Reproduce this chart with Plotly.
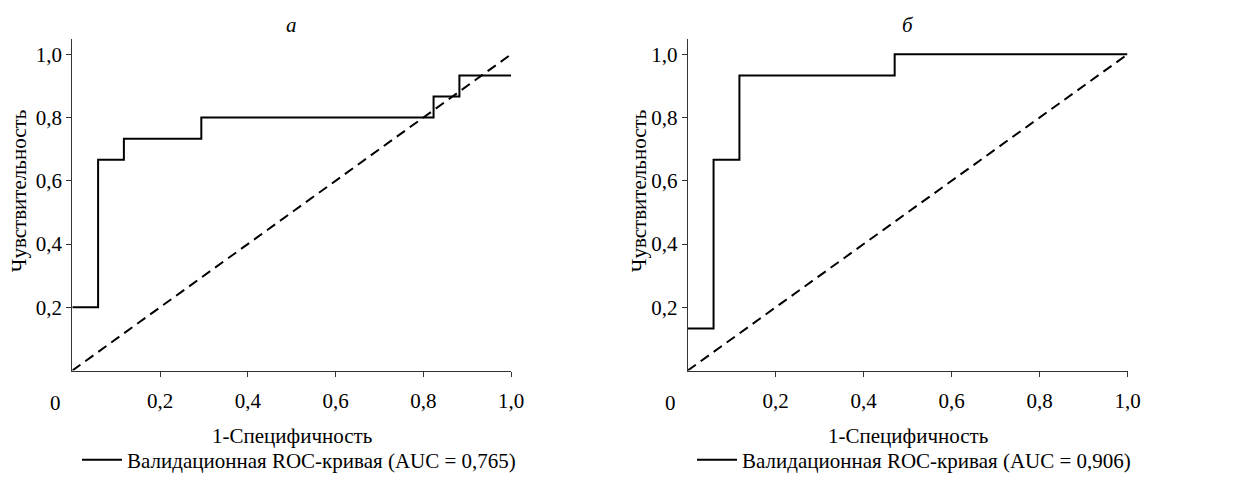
import plotly.graph_objects as go

# ROC data (1 - specificity, sensitivity)
fpr_a = [0.0, 0.0588, 0.0588, 0.1176, 0.1176, 0.2941, 0.2941, 0.8235, 0.8235, 0.8824, 0.8824, 1.0]
tpr_a = [0.2, 0.2, 0.6667, 0.6667, 0.7333, 0.7333, 0.8, 0.8, 0.8667, 0.8667, 0.9333, 0.9333]
fpr_b = [0.0, 0.0588, 0.0588, 0.1176, 0.1176, 0.4706, 0.4706, 1.0]
tpr_b = [0.1333, 0.1333, 0.6667, 0.6667, 0.9333, 0.9333, 1.0, 1.0]
diag = [0.0, 1.0]
tick_vals = [0.2, 0.4, 0.6, 0.8, 1.0]
panel_titles = ["а", "б"]
legend_a = "Валидационная ROC-кривая (AUC = 0,765)"
legend_b = "Валидационная ROC-кривая (AUC = 0,906)"
x_title = "1-Специфичность"
y_title = "Чувствительность"

FONT = "Liberation Serif"
OFF = 8  # default page body margin
W, H = 1238 - OFF, 481 - OFF


def px(x):
    return (x - OFF) / W


def py(y):
    return 1 - (y - OFF) / H


fig = go.Figure()

fig.add_trace(go.Scatter(x=fpr_a, y=tpr_a, mode="lines", name=legend_a,
                         line=dict(color="black", width=2), xaxis="x", yaxis="y",
                         legend="legend", showlegend=True))
fig.add_trace(go.Scatter(x=diag, y=diag, mode="lines", showlegend=False,
                         line=dict(color="black", width=2, dash="10px,6px"), xaxis="x", yaxis="y"))
fig.add_trace(go.Scatter(x=fpr_b, y=tpr_b, mode="lines", name=legend_b,
                         line=dict(color="black", width=2), xaxis="x2", yaxis="y2",
                         legend="legend2", showlegend=True))
fig.add_trace(go.Scatter(x=diag, y=diag, mode="lines", showlegend=False,
                         line=dict(color="black", width=2, dash="10px,6px"), xaxis="x2", yaxis="y2"))

ydom = [py(376), py(39)]
xdom1 = [px(72.3), px(511)]
xdom2 = [px(687.7), px(1127.5)]

axis_common = dict(
    showgrid=False, zeroline=False, showline=True, linecolor="#333", linewidth=1,
    ticks="outside", ticklen=5, tickcolor="#333", tickwidth=1,
    tickvals=tick_vals, tickformat=".1f", automargin=False,
    tickfont=dict(family=FONT, size=21, color="black"),
)

fig.update_layout(
    width=W, height=H, autosize=False,
    margin=dict(l=0, r=0, t=0, b=0),
    paper_bgcolor="white", plot_bgcolor="white",
    separators=", ",
    font=dict(family=FONT, color="black"),
    xaxis=dict(domain=xdom1, range=[0, 1], anchor="y", ticklabelstandoff=6, **axis_common),
    yaxis=dict(domain=ydom, range=[0, 1.05], anchor="x", **axis_common),
    xaxis2=dict(domain=xdom2, range=[0, 1], anchor="y2", ticklabelstandoff=6, **axis_common),
    yaxis2=dict(domain=ydom, range=[0, 1.05], anchor="x2", **axis_common),
    legend=dict(x=px(77), y=py(467), xanchor="left", yanchor="middle",
                font=dict(family=FONT, size=21, color="black"), itemwidth=40,
                bgcolor="rgba(0,0,0,0)"),
    legend2=dict(x=px(692), y=py(467), xanchor="left", yanchor="middle",
                 font=dict(family=FONT, size=21, color="black"), itemwidth=40,
                 bgcolor="rgba(0,0,0,0)"),
)

ann = []
for xr, yr in [("x", "y"), ("x2", "y2")]:
    # corner zero label
    ann.append(dict(x=0, y=0, xref=xr, yref=yr, text="0", showarrow=False,
                    xanchor="center", yanchor="middle",
                    xshift=-17, yshift=-32, font=dict(family=FONT, size=21)))
for cx, t in [(291.7, panel_titles[0]), (907.5, panel_titles[1])]:
    ann.append(dict(x=px(cx), y=py(25), xref="paper", yref="paper",
                    xanchor="center", yanchor="middle",
                    text="<i>" + t + "</i>", showarrow=False, font=dict(family=FONT, size=21)))
    ann.append(dict(x=px(cx), y=py(442), xref="paper", yref="paper",
                    xanchor="center", yanchor="middle",
                    text=x_title, showarrow=False, font=dict(family=FONT, size=21)))
for cx in [19, 639]:
    ann.append(dict(x=px(cx), y=py(194), xref="paper", yref="paper",
                    xanchor="center", yanchor="middle",
                    text=y_title, textangle=-90, showarrow=False, font=dict(family=FONT, size=21)))
fig.update_layout(annotations=ann)

fig.write_html("out.html")
